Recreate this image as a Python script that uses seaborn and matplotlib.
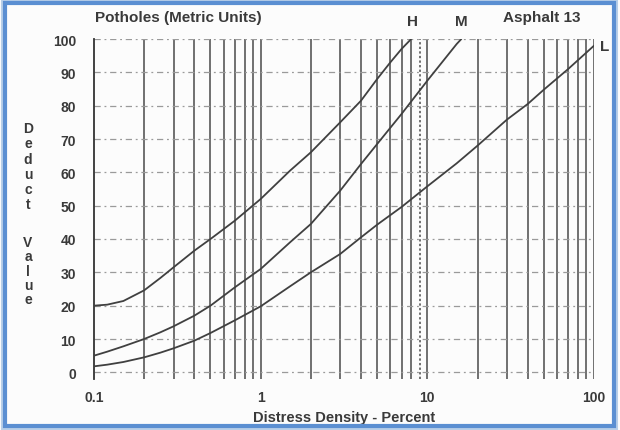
import matplotlib
matplotlib.use("Agg")
import matplotlib.pyplot as plt
from matplotlib.patches import Rectangle
import numpy as np
import pandas as pd
import seaborn as sns

# Deduct curves for potholes (metric units), asphalt pavement
density_h = [0.1, 0.12, 0.15, 0.2, 0.25, 0.3, 0.4, 0.5, 0.7, 1.0, 1.5, 2.0, 3.0, 4.0, 5.0, 6.0, 7.0, 8.0]
deduct_h = [20.0, 20.3, 21.4, 24.6, 28.3, 31.5, 36.5, 40.0, 45.5, 52.0, 60.5, 66.0, 75.0, 81.5, 88.0, 93.0, 97.0, 100.0]

density_m = [0.1, 0.12, 0.15, 0.2, 0.25, 0.3, 0.4, 0.5, 0.7, 1.0, 1.5, 2.0, 3.0, 4.0, 5.0, 7.0, 10.0, 15.0, 16.0]
deduct_m = [5.0, 6.2, 7.8, 10.0, 12.0, 13.8, 17.0, 20.0, 25.5, 31.0, 39.0, 44.5, 54.5, 62.5, 68.5, 77.5, 87.5, 98.5, 100.0]

density_l = [0.1, 0.12, 0.15, 0.2, 0.25, 0.3, 0.4, 0.5, 0.7, 1.0, 1.5, 2.0, 3.0, 4.0, 5.0, 7.0, 10.0, 15.0, 20.0, 30.0, 40.0, 50.0, 70.0, 100.0]
deduct_l = [1.8, 2.3, 3.1, 4.5, 5.9, 7.2, 9.5, 11.8, 15.6, 19.8, 25.8, 30.0, 35.5, 40.5, 44.3, 49.6, 55.8, 62.7, 68.0, 75.8, 80.5, 84.8, 91.0, 98.0]

severity_levels = ["H", "M", "L"]
y_ticks = [0, 10, 20, 30, 40, 50, 60, 70, 80, 90, 100]
x_ticks = [0.1, 1, 10, 100]
x_tick_labels = ["0.1", "1", "10", "100"]

frames = []
for sev, xs, ys in zip(severity_levels,
                       [density_h, density_m, density_l],
                       [deduct_h, deduct_m, deduct_l]):
    frames.append(pd.DataFrame({"density": xs, "deduct": ys, "severity": sev}))
curves = pd.concat(frames, ignore_index=True)

sns.set_style("white")
plt.rcParams["font.family"] = ["Liberation Sans", "DejaVu Sans"]

W, H = 620, 431
fig = plt.figure(figsize=(W / 100, H / 100), dpi=100, facecolor="#fcfcfc")

# axes placement in pixels: x 0.1 -> 94, 100 -> 594 ; y 100 -> 40, -2 -> 380
ax_left, ax_right = 94, 594
ax_top, ax_bot = 40, 380
ax = fig.add_axes([ax_left / W, 1 - ax_bot / H, (ax_right - ax_left) / W, (ax_bot - ax_top) / H])
ax.set_facecolor("#fcfcfc")

ink = "#3a3a3a"
ax.set_xscale("log")
ax.set_xlim(0.1, 100)
ax.set_ylim(-2, 100)

# vertical rulings at every log step
for dec in [0.1, 1, 10]:
    for k in range(1, 10):
        xv = dec * k
        if xv <= 0.1:
            continue
        style = (0, (1.5, 1.5)) if xv == 9 else "-"
        ax.axvline(xv, ymin=0, ymax=1, color="#4a4a4a", lw=1.1, ls=style, zorder=1)
ax.axvline(100, color="#4a4a4a", lw=1.1, zorder=1)

# horizontal dashed rulings
for yv in y_ticks:
    ax.plot([0.1, 100], [yv, yv], color="#9a9a9a", lw=0.9,
            ls=(0, (5, 3, 1.5, 3)), zorder=1)

sns.lineplot(data=curves, x="density", y="deduct", hue="severity",
             palette={s: "#404040" for s in severity_levels},
             estimator=None, sort=True, lw=1.3, legend=False, ax=ax, zorder=3)

for side in ["top", "right", "bottom"]:
    ax.spines[side].set_visible(False)
ax.spines["left"].set_color("#333333")
ax.spines["left"].set_linewidth(1.3)

ax.set_xticks(x_ticks)
ax.set_xticklabels(x_tick_labels)
ax.xaxis.set_minor_locator(matplotlib.ticker.NullLocator())
ax.set_yticks(y_ticks)
ax.tick_params(axis="both", length=0, labelsize=10, colors=ink)
ax.tick_params(axis="y", pad=13)
ax.tick_params(axis="x", pad=8)
for t in ax.get_xticklabels() + ax.get_yticklabels():
    t.set_fontweight("bold")
ax.set_xlabel("Distress Density - Percent", fontsize=10.5, fontweight="bold",
              color=ink, labelpad=4)
ax.set_ylabel("")

# stacked axis title on the left
for i, ch in enumerate("Deduct"):
    fig.text(28 / W, 1 - (129 + i * 15.3) / H, ch, ha="center", va="center",
             fontsize=10, fontweight="bold", color=ink)
for i, ch in enumerate("Value"):
    fig.text(28 / W, 1 - (243 + i * 14.3) / H, ch, ha="center", va="center",
             fontsize=10, fontweight="bold", color=ink)

# header texts
fig.text(95 / W, 1 - 18 / H, "Potholes (Metric Units)", ha="left", va="center",
         fontsize=11, fontweight="bold", color=ink)
fig.text(413 / W, 1 - 22 / H, "H", ha="center", va="center",
         fontsize=11, fontweight="bold", color=ink)
fig.text(461 / W, 1 - 22 / H, "M", ha="center", va="center",
         fontsize=11, fontweight="bold", color=ink)
fig.text(503 / W, 1 - 18 / H, "Asphalt 13", ha="left", va="center",
         fontsize=11, fontweight="bold", color=ink)
fig.text(605 / W, 1 - 47 / H, "L", ha="center", va="center",
         fontsize=11, fontweight="bold", color=ink)

# blue frame around the sheet
fig.patches.append(Rectangle((5 / W, 4 / H), 609 / W, 423 / H, transform=fig.transFigure,
                             fill=False, edgecolor="#5b8fd2", lw=3.0, zorder=10))
fig.patches.append(Rectangle((2 / W, 1 / H), 615 / W, 429 / H, transform=fig.transFigure,
                             fill=False, edgecolor="#b8cfe8", lw=1.5, zorder=9))

fig.savefig("out.png", dpi=100, facecolor=fig.get_facecolor())
